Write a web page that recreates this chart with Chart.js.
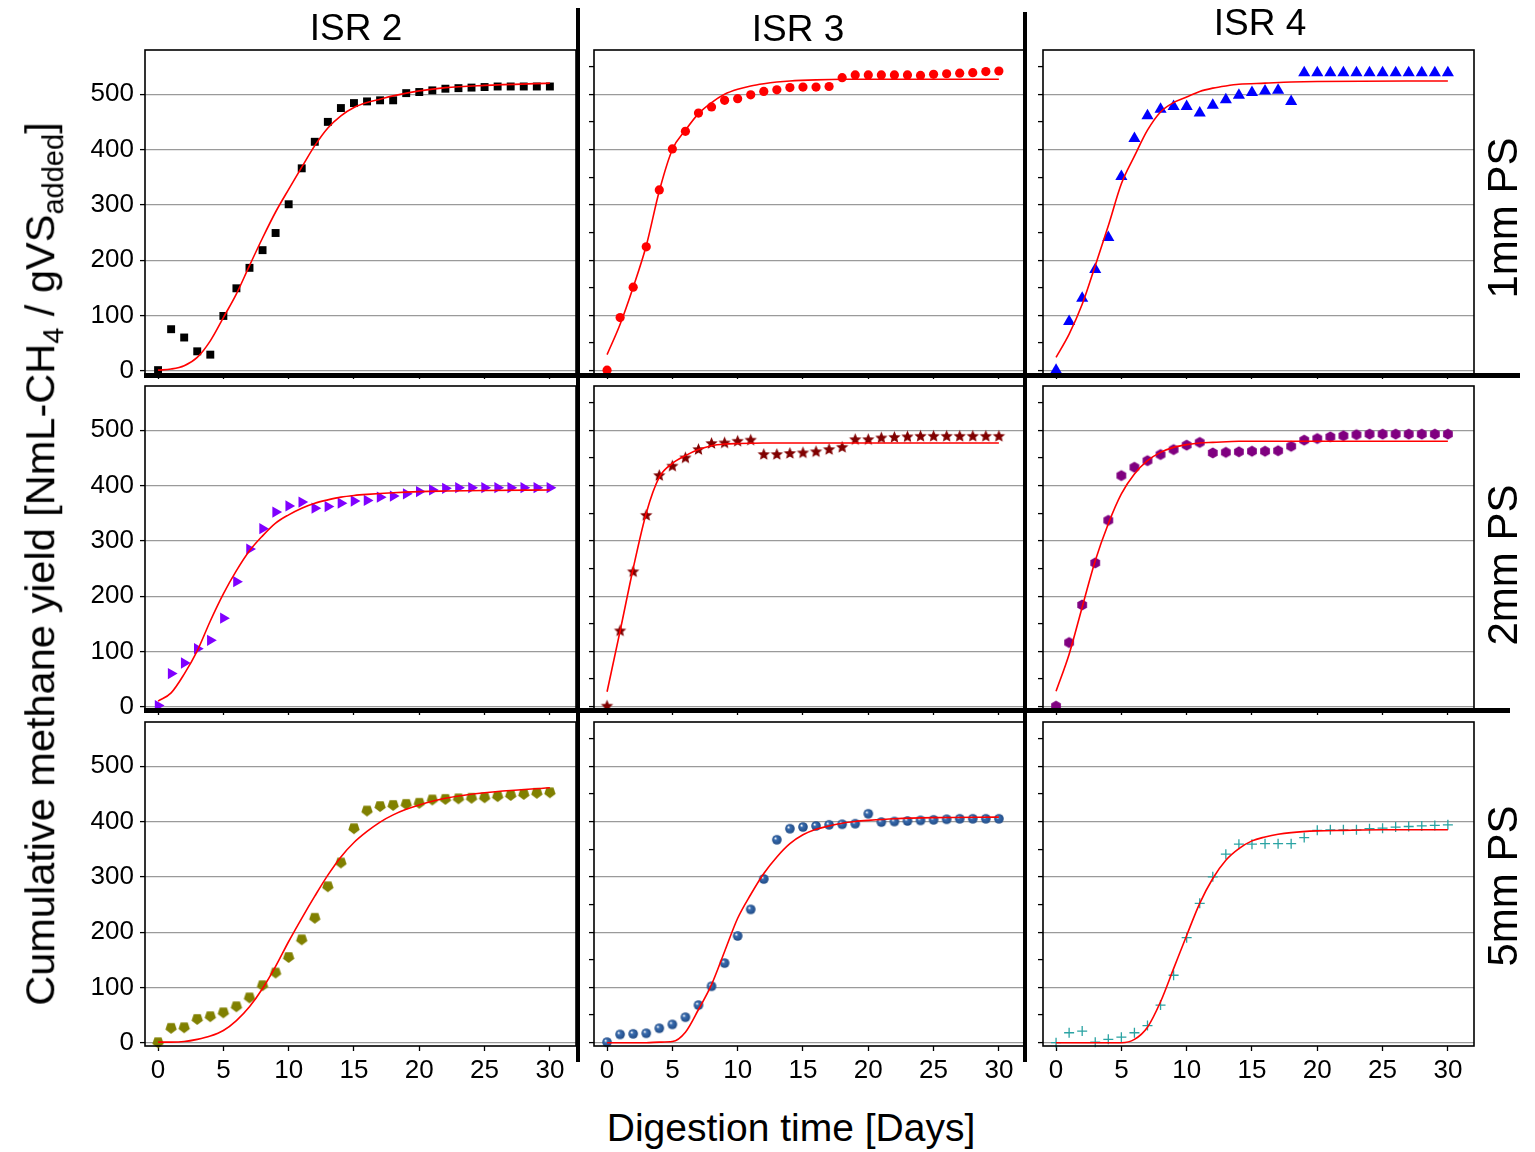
<!DOCTYPE html>
<html>
<head>
<meta charset="utf-8">
<script src="https://cdn.jsdelivr.net/npm/chart.js@4.4.0/dist/chart.umd.min.js"></script>
<style>
    body {
        margin: 0;
        background: #fff;
        width: 1535px;
        height: 1152px;
        position: relative;
        overflow: hidden;
        font-family: "Liberation Sans", Arial, sans-serif;
        color: #000;
    }
    canvas { position: absolute; }
    .sep { position: absolute; background: #000; z-index: 5; }
    .txt {
        position: absolute;
        white-space: nowrap;
        line-height: 1;
        transform: translate(-50%, -50%);
        z-index: 6;
    }
    .rot { transform: translate(-50%, -50%) rotate(-90deg); }
    .title { font-size: 37px; }
    .side { font-size: 42px; }
    .axis { font-size: 39px; }
    .yaxis { font-size: 41.5px; }
    sub { font-size: 0.7em; vertical-align: -0.3em; line-height: 0; }
</style>
</head>
<body>

<div class="txt title" style="left:356px; top:27px;">ISR 2</div>
<div class="txt title" style="left:798px; top:28px;">ISR 3</div>
<div class="txt title" style="left:1260px; top:22px;">ISR 4</div>

<div class="txt side rot" style="left:1503px; top:218px;">1mm PS</div>
<div class="txt side rot" style="left:1503px; top:565px;">2mm PS</div>
<div class="txt side rot" style="left:1503px; top:886px;">5mm PS</div>

<div class="txt yaxis rot" style="left:40px; top:564px;">Cumulative methane yield [NmL-CH<sub>4</sub> / gVS<sub>added</sub>]</div>
<div class="txt axis" style="left:791px; top:1127px;">Digestion time [Days]</div>

<div class="sep" style="left:576px; top:8px; width:4px; height:1054px;"></div>
<div class="sep" style="left:1023px; top:12px; width:4px; height:1050px;"></div>
<div class="sep" style="left:144px; top:373px; width:1376px; height:5px;"></div>
<div class="sep" style="left:144px; top:708px; width:1366px; height:5px;"></div>

<script>
// ---- data ----
const days = [0, 1, 2, 3, 4, 5, 6, 7, 8, 9, 10, 11, 12, 13, 14, 15, 16, 17, 18, 19, 20, 21, 22, 23, 24, 25, 26, 27, 28, 29, 30];
const xTicks = [0, 5, 10, 15, 20, 25, 30];
const yTicks = [0, 50, 100, 150, 200, 250, 300, 350, 400, 450, 500, 550];

// measured yields
const isr2_1mm = [1, 75, 60, 35, 29, 99, 149, 186, 218, 249, 301, 366, 414, 450, 475, 484, 487, 489, 489, 502, 504, 507, 510, 511, 512, 513, 514, 514, 514, 514, 514];
const isr3_1mm = [1, 96, 151, 224, 327, 401, 433, 466, 477, 489, 492, 499, 505, 508, 512, 513, 513, 514, 530, 535, 535, 535, 535, 535, 534, 536, 537, 538, 539, 541, 542];
const isr4_1mm = [1, 89, 131, 183, 241, 351, 420, 461, 473, 478, 478, 466, 480, 490, 498, 503, 506, 507, 487, 539, 539, 539, 539, 539, 539, 539, 539, 539, 539, 539, 539];
const isr2_2mm = [2, 60, 79, 105, 120, 160, 226, 285, 322, 352, 363, 370, 359, 362, 368, 372, 373, 379, 381, 385, 389, 392, 395, 396, 396, 396, 396, 396, 396, 396, 396];
const isr3_2mm = [1, 137, 244, 346, 418, 435, 450, 465, 476, 477, 480, 482, 456, 456, 458, 459, 461, 465, 469, 483, 483, 486, 487, 488, 489, 489, 489, 489, 489, 489, 489];
const isr4_2mm = [1, 116, 184, 260, 337, 418, 433, 445, 456, 465, 473, 478, 459, 460, 461, 462, 462, 463, 471, 482, 485, 488, 490, 492, 493, 493, 493, 493, 493, 493, 493];
const isr2_5mm = [1, 27, 28, 43, 48, 55, 66, 82, 104, 127, 155, 187, 226, 283, 326, 388, 420, 428, 430, 432, 434, 440, 441, 442, 443, 444, 446, 448, 450, 452, 453];
const isr3_5mm = [1, 15, 16, 17, 26, 33, 46, 68, 102, 144, 193, 241, 296, 367, 387, 390, 392, 394, 395, 396, 414, 399, 400, 401, 402, 403, 404, 405, 405, 405, 405];
const isr4_5mm = [0, 18, 21, 1, 6, 10, 18, 31, 68, 122, 190, 252, 300, 341, 359, 359, 360, 360, 360, 371, 384, 385, 385, 385, 387, 388, 390, 391, 392, 393, 394];

// fitted curves (read at these days)
const fitDays_isr2_1mm = [0, 1, 2, 3, 4, 5, 6, 7, 8, 9, 10, 11, 12, 13, 14, 15, 16, 17, 18, 20, 22, 25, 30];
const fit_isr2_1mm = [1, 3, 9, 24, 54, 96, 139, 190, 240, 287, 328, 368, 407, 439, 461, 476, 485, 491, 497, 506, 512, 516, 520];
const fitDays_isr3_1mm = [0, 1, 2, 3, 4, 5, 6, 7, 8, 9, 10, 11, 12, 13, 14, 16, 18, 20, 30];
const fit_isr3_1mm = [29, 84, 151, 226, 325, 400, 435, 465, 485, 500, 509, 515, 519, 522, 524, 526, 527, 527, 527];
const fitDays_isr4_1mm = [0, 1, 2, 3, 4, 5, 6, 7, 8, 9, 10, 11, 12, 13, 14, 16, 18, 20, 30];
const fit_isr4_1mm = [24, 66, 120, 190, 262, 338, 388, 435, 468, 485, 495, 505, 511, 515, 518, 520, 522, 523, 524];
const fitDays_isr2_2mm = [0, 1, 2, 3, 4, 5, 6, 7, 8, 9, 10, 11, 12, 13, 14, 15, 16, 18, 20, 22, 25, 30];
const fit_isr2_2mm = [10, 25, 59, 101, 155, 204, 246, 282, 309, 332, 347, 359, 368, 374, 379, 382, 384, 387, 389, 390, 391, 392];
const fitDays_isr3_2mm = [0, 1, 2, 3, 4, 5, 6, 7, 8, 9, 10, 12, 30];
const fit_isr3_2mm = [27, 137, 250, 350, 415, 440, 454, 465, 472, 475, 476, 477, 477];
const fitDays_isr4_2mm = [0, 1, 2, 3, 4, 5, 6, 7, 8, 9, 10, 11, 12, 14, 18, 30];
const fit_isr4_2mm = [28, 95, 180, 264, 331, 385, 421, 445, 460, 469, 474, 477, 478, 480, 480, 480];
const fitDays_isr2_5mm = [0, 1, 2, 3, 4, 5, 6, 7, 8, 9, 10, 11, 12, 13, 14, 15, 16, 17, 18, 19, 20, 22, 25, 30];
const fit_isr2_5mm = [1, 1, 2, 6, 12, 22, 40, 65, 98, 138, 183, 225, 265, 303, 336, 362, 382, 399, 412, 422, 430, 442, 452, 461];
const fitDays_isr3_5mm = [0, 1, 2, 3, 4, 5, 6, 7, 8, 9, 10, 11, 12, 13, 14, 15, 16, 17, 18, 19, 20, 22, 25, 30];
const fit_isr3_5mm = [0, 0, 0, 0, 1, 2, 19, 60, 105, 165, 225, 268, 306, 336, 360, 376, 386, 392, 397, 400, 402, 405, 407, 408];
const fitDays_isr4_5mm = [0, 1, 2, 3, 4, 5, 6, 7, 8, 9, 10, 11, 12, 13, 14, 15, 16, 17, 18, 20, 22, 25, 30];
const fit_isr4_5mm = [0, 0, 0, 0, 0, 0, 6, 28, 74, 134, 194, 252, 297, 330, 351, 365, 372, 377, 380, 383, 384, 385, 385];

// ---- layout ----
const colLeft = [145, 594, 1043];
const rowTop = [50, 386, 722];
const plotW = 431;
const plotH = 324;
const padLeft = 80, padTop = 10, padRight = 10, padBottom = 40;

const colors = {
    fit: "#FF0000",
    grid: "#9A9A9A",
};

// custom marker shapes
function polygonMarker(sides, radius, color, startAngle, innerRatio) {
    const size = Math.ceil(radius * 2 + 2);
    const c = document.createElement("canvas");
    c.width = size;
    c.height = size;
    const g = c.getContext("2d");
    const n = innerRatio ? sides * 2 : sides;
    g.beginPath();
    for (let i = 0; i < n; i++) {
        const r = innerRatio && i % 2 ? radius * innerRatio : radius;
        const a = startAngle + (i * 2 * Math.PI) / n;
        g.lineTo(size / 2 + r * Math.cos(a), size / 2 + r * Math.sin(a));
    }
    g.closePath();
    g.fillStyle = color;
    g.fill();
    return c;
}

function sphereMarker(radius, color) {
    const size = Math.ceil(radius * 2 + 2);
    const c = document.createElement("canvas");
    c.width = size;
    c.height = size;
    const g = c.getContext("2d");
    const m = size / 2;
    const grad = g.createRadialGradient(m - radius * 0.35, m - radius * 0.35, 0.3, m, m, radius);
    grad.addColorStop(0, "#FFFFFF");
    grad.addColorStop(0.3, color);
    grad.addColorStop(1, "#1F4A85");
    g.beginPath();
    g.arc(m, m, radius, 0, Math.PI * 2);
    g.fillStyle = grad;
    g.fill();
    return c;
}

const markers = {
    square: { pointStyle: "rect", pointRadius: 5.6, color: "#000000" },
    circle: { pointStyle: "circle", pointRadius: 4.6, color: "#FF0000" },
    triUp: { pointStyle: "triangle", pointRadius: 7, color: "#0000FF" },
    triRight: { pointStyle: "triangle", pointRadius: 6.5, color: "#8000FF", rotation: 90 },
    star: { pointStyle: polygonMarker(5, 6.5, "#800000", -Math.PI / 2, 0.45), pointRadius: 6, color: "#800000" },
    hexagon: { pointStyle: polygonMarker(6, 5.6, "#800080", -Math.PI / 2), pointRadius: 6, color: "#800080" },
    pentagon: { pointStyle: polygonMarker(5, 6, "#808000", Math.PI / 2), pointRadius: 6, color: "#808000" },
    sphere: { pointStyle: sphereMarker(4.8, "#3A6DB0"), pointRadius: 5, color: "#3A6DB0" },
    plus: { pointStyle: "cross", pointRadius: 5, color: "#2AA3A3", borderWidth: 1.3 },
};

const framePlugin = {
    id: "frame",
    afterDatasetsDraw(chart) {
        const { ctx, chartArea: a } = chart;
        ctx.save();
        ctx.strokeStyle = "#000";
        ctx.lineWidth = 1.6;
        ctx.strokeRect(a.left, a.top, a.right - a.left, a.bottom - a.top);
        ctx.restore();
    },
};

function makePanel(row, col, values, fitDays, fitValues, marker) {
    const canvas = document.createElement("canvas");
    const w = plotW + padLeft + padRight;
    const h = plotH + padTop + padBottom;
    canvas.width = w;
    canvas.height = h;
    canvas.style.left = colLeft[col] - padLeft + "px";
    canvas.style.top = rowTop[row] - padTop + "px";
    document.body.appendChild(canvas);

    const showY = col === 0;
    const showX = row === 2;

    new Chart(canvas.getContext("2d"), {
        type: "scatter",
        data: {
            datasets: [
                {
                    type: "line",
                    data: fitDays.map((d, i) => ({ x: d, y: fitValues[i] })),
                    borderColor: colors.fit,
                    borderWidth: 1.6,
                    pointRadius: 0,
                    fill: false,
                    cubicInterpolationMode: "monotone",
                    clip: false,
                },
                {
                    data: days.map((d, i) => ({ x: d, y: values[i] })),
                    pointStyle: marker.pointStyle,
                    pointRadius: marker.pointRadius,
                    pointRotation: marker.rotation || 0,
                    backgroundColor: marker.color,
                    borderColor: marker.color,
                    borderWidth: marker.borderWidth || 0,
                    clip: false,
                },
            ],
        },
        options: {
            responsive: false,
            animation: false,
            layout: {
                padding: { left: 0, top: padTop, right: padRight, bottom: 0 },
            },
            plugins: {
                legend: { display: false },
                tooltip: { enabled: false },
            },
            scales: {
                x: {
                    type: "linear",
                    min: -1,
                    max: 32,
                    afterBuildTicks: (scale) => {
                        scale.ticks = xTicks.map((v) => ({ value: v }));
                    },
                    afterFit: (scale) => {
                        scale.height = padBottom;
                        scale.paddingLeft = 0;
                        scale.paddingRight = 0;
                    },
                    border: { display: false },
                    grid: {
                        drawOnChartArea: false,
                        drawTicks: true,
                        tickLength: 5,
                        tickColor: "#000",
                        tickWidth: 1.3,
                    },
                    ticks: {
                        display: showX,
                        color: "#000",
                        padding: 4,
                        maxRotation: 0,
                        font: { family: "'Liberation Sans', Arial, sans-serif", size: 26 },
                    },
                },
                y: {
                    min: -6,
                    max: 580,
                    afterBuildTicks: (scale) => {
                        scale.ticks = yTicks.map((v) => ({ value: v }));
                    },
                    afterFit: (scale) => {
                        scale.width = padLeft;
                        scale.paddingTop = 0;
                        scale.paddingBottom = 0;
                    },
                    border: { display: false },
                    grid: {
                        color: (ctx) =>
                            ctx.tick && ctx.tick.value % 100 === 0 ? colors.grid : "rgba(0,0,0,0)",
                        lineWidth: 1.2,
                        drawTicks: true,
                        tickLength: 5,
                        tickColor: "#000",
                        tickWidth: 1.3,
                    },
                    ticks: {
                        display: showY,
                        color: "#000",
                        padding: 6,
                        font: { family: "'Liberation Sans', Arial, sans-serif", size: 26 },
                        callback: (v) => (v % 100 === 0 ? v : ""),
                    },
                },
            },
        },
        plugins: [framePlugin],
    });
}

// Row 1: 1mm PS
makePanel(0, 0, isr2_1mm, fitDays_isr2_1mm, fit_isr2_1mm, markers.square);
makePanel(0, 1, isr3_1mm, fitDays_isr3_1mm, fit_isr3_1mm, markers.circle);
makePanel(0, 2, isr4_1mm, fitDays_isr4_1mm, fit_isr4_1mm, markers.triUp);
// Row 2: 2mm PS
makePanel(1, 0, isr2_2mm, fitDays_isr2_2mm, fit_isr2_2mm, markers.triRight);
makePanel(1, 1, isr3_2mm, fitDays_isr3_2mm, fit_isr3_2mm, markers.star);
makePanel(1, 2, isr4_2mm, fitDays_isr4_2mm, fit_isr4_2mm, markers.hexagon);
// Row 3: 5mm PS
makePanel(2, 0, isr2_5mm, fitDays_isr2_5mm, fit_isr2_5mm, markers.pentagon);
makePanel(2, 1, isr3_5mm, fitDays_isr3_5mm, fit_isr3_5mm, markers.sphere);
makePanel(2, 2, isr4_5mm, fitDays_isr4_5mm, fit_isr4_5mm, markers.plus);
</script>
</body>
</html>
